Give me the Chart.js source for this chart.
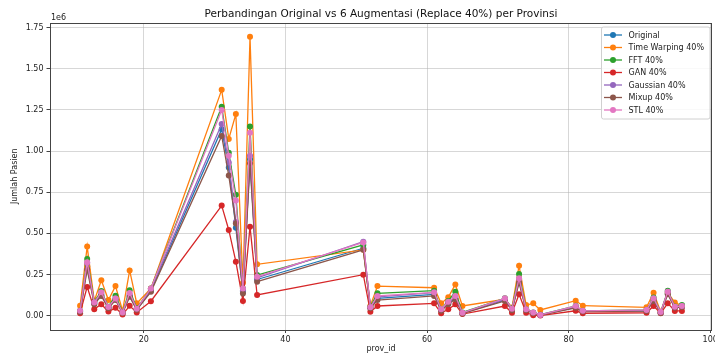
<!DOCTYPE html>
<html>
<head>
<meta charset="utf-8">
<script src="https://cdn.jsdelivr.net/npm/chart.js@4"></script>
<style>
html,body{margin:0;padding:0;background:#fff;}
#wrap{width:715px;height:356px;}
</style>
</head>
<body>
<div id="wrap"><canvas id="c" width="715" height="356"></canvas></div>
<script>
// ---- data (values in patients) ----
const provIds = [11,12,13,14,15,16,17,18,19,21,31,32,33,34,35,36,51,52,53,61,62,63,64,65,71,72,73,74,75,76,81,82,91,92,93,94,95,96];
const seriesNames = ['Original','Time Warping 40%','FFT 40%','GAN 40%','Gaussian 40%','Mixup 40%','STL 40%'];
const original = [25000,300000,75000,125000,48000,100000,18000,120000,38000,150000,1133000,900000,535000,145000,950000,220000,410000,48000,105000,130000,32000,75000,105000,15000,95000,35000,210000,35000,16000,4000,50000,26000,30000,95000,18000,135000,50000,55000];
const timeWarping = [60000,420000,90000,215000,95000,180000,30000,275000,75000,165000,1372000,1074000,1225000,200000,1694000,312000,400000,60000,180000,170000,75000,112000,190000,59000,100000,50000,304000,65000,75000,35000,91000,61000,51000,140000,25000,140000,81000,60000];
const fft = [30000,345000,85000,150000,55000,122000,22000,155000,45000,165000,1269000,990000,735000,165000,1149000,247000,430000,55000,136000,152000,40000,90000,146000,20000,106000,45000,254000,40000,20000,6000,60000,30000,35000,110000,22000,152000,56000,65000];
const gan = [15000,175000,40000,70000,25000,48000,7000,60000,20000,88000,669000,521000,328000,90000,541000,126000,249000,24000,59000,75000,15000,39000,69000,10000,59000,18000,130000,18000,3000,1000,30000,15000,18000,59000,15000,75000,29000,29000];
const gaussian = [28000,320000,80000,135000,50000,105000,20000,130000,40000,160000,1165000,930000,570000,155000,971000,230000,450000,50000,115000,140000,35000,80000,115000,17000,100000,40000,225000,37000,18000,5000,55000,28000,33000,100000,20000,145000,53000,58000];
const mixup = [22000,280000,70000,120000,45000,95000,17000,115000,36000,145000,1092000,851000,560000,135000,926000,207000,400000,45000,95000,120000,30000,70000,100000,14000,90000,33000,200000,33000,15000,4000,48000,25000,28000,90000,17000,130000,48000,53000];
const stl = [30000,325000,80000,143000,53000,105000,20000,138000,43000,165000,1250000,971000,700000,165000,1112000,237000,445000,51000,120000,142000,39000,85000,120000,18000,106000,43000,227000,39000,20000,5000,59000,30000,35000,106000,22000,146000,55000,59000];
const yTicks = [0,250000,500000,750000,1000000,1250000,1500000,1750000];
const xTicks = [20,40,60,80,100];

const allSeries = [original, timeWarping, fft, gan, gaussian, mixup, stl];
const colors = ['#1f77b4','#ff7f0e','#2ca02c','#d62728','#9467bd','#8c564b','#e377c2'];
const FONT = 'DejaVu Sans';

const datasets = allSeries.map((vals, i) => ({
  label: seriesNames[i],
  data: provIds.map((p, k) => ({x: p, y: vals[k]})),
  borderColor: colors[i],
  backgroundColor: colors[i],
  borderWidth: 1.3,
  pointRadius: 3,
  pointBorderWidth: 0,
  pointHoverRadius: 3,
  tension: 0,
  order: allSeries.length - 1 - i
}));

const extras = {
  id: 'extras',
  afterDatasetsDraw(chart) {
    const {ctx, chartArea: a} = chart;
    ctx.save();
    // spines
    ctx.strokeStyle = '#444';
    ctx.lineWidth = 1;
    ctx.strokeRect(Math.round(a.left) + 0.5, Math.round(a.top) + 0.5, Math.round(a.right - a.left) - 1, Math.round(a.bottom - a.top));
    // title
    ctx.fillStyle = '#111';
    ctx.font = '10.5px "' + FONT + '"';
    ctx.textAlign = 'center';
    ctx.textBaseline = 'middle';
    ctx.fillText('Perbandingan Original vs 6 Augmentasi (Replace 40%) per Provinsi', (a.left + a.right) / 2, 14);
    // offset text
    ctx.font = '8px "' + FONT + '"';
    ctx.textAlign = 'left';
    ctx.fillStyle = '#222';
    ctx.fillText('1e6', a.left + 1, 17.5);
    // legend
    const lx = 601.5, ly = 27, lw = 108.5, lh = 92;
    ctx.fillStyle = 'rgba(255,255,255,0.85)';
    ctx.strokeStyle = '#d0d0d0';
    ctx.lineWidth = 1;
    ctx.beginPath();
    if (ctx.roundRect) ctx.roundRect(lx, ly, lw, lh, 2); else ctx.rect(lx, ly, lw, lh);
    ctx.fill();
    ctx.stroke();
    chart.data.datasets.forEach((ds, i) => {
      const y = 35 + i * 12.5;
      ctx.strokeStyle = ds.borderColor;
      ctx.lineWidth = 1.3;
      ctx.beginPath();
      ctx.moveTo(604, y);
      ctx.lineTo(622, y);
      ctx.stroke();
      ctx.fillStyle = ds.borderColor;
      ctx.beginPath();
      ctx.arc(613, y, 3, 0, Math.PI * 2);
      ctx.fill();
      ctx.fillStyle = '#222';
      ctx.font = '8px "' + FONT + '"';
      ctx.textAlign = 'left';
      ctx.textBaseline = 'middle';
      ctx.fillText(ds.label, 628.5, y + 0.5);
    });
    ctx.restore();
  }
};

const bg = {
  id: 'bg',
  beforeDraw(chart) {
    const ctx = chart.ctx;
    ctx.save();
    ctx.fillStyle = '#fff';
    ctx.fillRect(0, 0, chart.width, chart.height);
    ctx.restore();
  }
};

new Chart(document.getElementById('c'), {
  type: 'line',
  data: {datasets},
  options: {
    responsive: false,
    animation: false,
    events: [],
    layout: {padding: {top: 23, right: 1, left: 0, bottom: 0}},
    plugins: {legend: {display: false}, title: {display: false}, tooltip: {enabled: false}},
    scales: {
      x: {
        type: 'linear',
        min: 6.75,
        max: 100.25,
        afterBuildTicks(s) { s.ticks = xTicks.map(v => ({value: v})); },
        afterFit(s) { s.height = 26.5; s.paddingLeft = 0; s.paddingRight = 0; },
        ticks: {color: '#222', font: {family: FONT, size: 8}, padding: 2, maxRotation: 0, autoSkip: false},
        grid: {color: 'rgba(176,176,176,0.5)', lineWidth: 1, tickLength: 3.5, tickColor: '#444', drawOnChartArea: true},
        border: {display: false},
        title: {display: true, text: 'prov_id', color: '#222', font: {family: FONT, size: 8}, padding: {top: 0, bottom: 2}}
      },
      y: {
        min: -83700,
        max: 1778000,
        afterBuildTicks(s) { s.ticks = yTicks.map(v => ({value: v})); },
        afterFit(s) { s.width = 50; s.paddingTop = 0; s.paddingBottom = 0; },
        ticks: {color: '#222', font: {family: FONT, size: 8}, padding: 3, autoSkip: false,
                callback: v => (v / 1e6).toFixed(2)},
        grid: {color: 'rgba(176,176,176,0.5)', lineWidth: 1, tickLength: 3.5, tickColor: '#444'},
        border: {display: false},
        title: {display: true, text: 'Jumlah Pasien', color: '#222', font: {family: FONT, size: 8}, padding: {top: 10, bottom: 0}}
      }
    }
  },
  plugins: [bg, extras]
});
</script>
</body>
</html>
